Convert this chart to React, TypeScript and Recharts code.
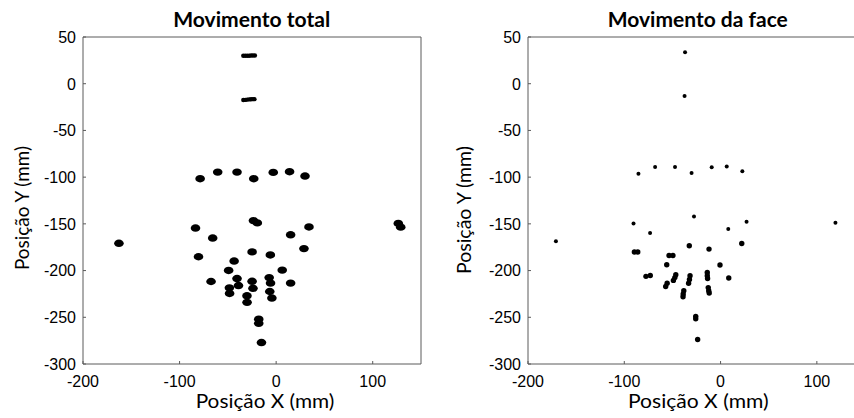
import React from 'react';
import { ScatterChart, Scatter, XAxis, YAxis } from 'recharts';

// ---- axes ----
const xTicks = [-200, -100, 0, 100];
const yTicks = [50, 0, -50, -100, -150, -200, -250, -300];
const xDomain: [number, number] = [-200, 150];
const yDomain: [number, number] = [-300, 50];

// ---- "Movimento total" : marker clusters (blob centres) ----
const totalBlobs = [
  { x: -78.7, y: -101.7 }, { x: -60.5, y: -94.6 }, { x: -40.5, y: -94.6 }, { x: -23.2, y: -101.7 },
  { x: -3.0, y: -94.9 }, { x: 13.9, y: -94.2 }, { x: 29.9, y: -98.8 },
  { x: -23.5, y: -146.5 }, { x: -19.5, y: -149 },
  { x: -83.5, y: -154.5 }, { x: 34, y: -153.3 }, { x: -65.7, y: -165.2 }, { x: 15, y: -161.7 },
  { x: -162.8, y: -170.8 }, { x: 126.5, y: -149.5 }, { x: 129, y: -153.5 },
  { x: -80.4, y: -185.2 }, { x: -24.9, y: -180 }, { x: -6, y: -183.3 }, { x: 28.8, y: -176.5 },
  { x: -43.5, y: -189.8 }, { x: -49.2, y: -199.9 }, { x: 6.3, y: -199.5 },
  { x: -67.4, y: -211.7 },
  { x: -40.5, y: -208.5 }, { x: -39, y: -216 },
  { x: -24.9, y: -211.5 }, { x: -24, y: -219 },
  { x: -7.2, y: -207.5 }, { x: -5.8, y: -213.4 },
  { x: 15, y: -213.4 },
  { x: -48.4, y: -218.5 }, { x: -48.2, y: -224.5 },
  { x: -30.2, y: -227 }, { x: -30.1, y: -234 },
  { x: -6.6, y: -222.4 }, { x: -4.4, y: -229.4 },
  { x: -18, y: -252 }, { x: -18, y: -256.5 },
  { x: -15.2, y: -277 },
];

// thin horizontal streaks near the top
const totalStreaks = [
  { x: -34, y: 30 }, { x: -32, y: 30 }, { x: -30, y: 30 }, { x: -28, y: 30 }, { x: -26, y: 30.2 },
  { x: -24, y: 30.2 }, { x: -22, y: 30.2 },
  { x: -34, y: -17.5 }, { x: -32, y: -17.3 }, { x: -30, y: -17 }, { x: -28, y: -16.8 }, { x: -26, y: -16.6 },
  { x: -24, y: -16.5 }, { x: -22.5, y: -16.5 },
];

// ---- "Movimento da face" ----
const faceSmall = [
  { x: -36.9, y: 33.6 }, { x: -37.4, y: -13.2 },
  { x: -85.3, y: -96.3 }, { x: -68, y: -89.2 }, { x: -47.3, y: -89.2 }, { x: -30.1, y: -95.5 },
  { x: -9.2, y: -89.3 }, { x: 6.4, y: -88.7 }, { x: 22.6, y: -93.8 },
  { x: -27.6, y: -142.2 }, { x: 27, y: -147.8 }, { x: -90.4, y: -149.7 }, { x: 119.3, y: -148.9 },
  { x: -171, y: -168.5 }, { x: 8, y: -155.5 }, { x: -73.2, y: -159.8 },
];

const faceLarge = [
  { x: -32.5, y: -173.4 }, { x: -12, y: -177 }, { x: 22, y: -171 },
  { x: -89.5, y: -180.2 }, { x: -86, y: -180.2 },
  { x: -53.5, y: -183.8 }, { x: -49.5, y: -183.8 },
  { x: -55.9, y: -193.8 }, { x: -0.6, y: -194 },
  { x: -77.5, y: -206.2 }, { x: -73, y: -205.2 },
  { x: -46.5, y: -204.5 }, { x: -47.5, y: -207.5 }, { x: -49, y: -210.5 },
  { x: -31.7, y: -205.5 }, { x: -32.3, y: -209.5 }, { x: -33.2, y: -213.5 },
  { x: -13.8, y: -202 }, { x: -13.8, y: -205.5 }, { x: -13.5, y: -208.5 },
  { x: 8.5, y: -208 },
  { x: -55.5, y: -213.5 }, { x: -57, y: -217 },
  { x: -12.8, y: -218.2 }, { x: -12.3, y: -221.5 }, { x: -11.8, y: -224 },
  { x: -38.2, y: -221.5 }, { x: -38.8, y: -225 }, { x: -39, y: -228 },
  { x: -25.8, y: -249 }, { x: -25.8, y: -251.5 },
  { x: -23.8, y: -273.7 },
];

const AXIS = '#5a5a5a';
const tickFamily = '"Liberation Sans", Arial, Helvetica, sans-serif';
const labelFont = 'Lato, "Open Sans", sans-serif';

const XTick = (p: any) => (
  <text x={p.x} y={p.y} dy={11.5} textAnchor="middle" fontFamily={tickFamily} fontSize={16} fill="#000">
    {p.payload.value}
  </text>
);
const YTick = (p: any) => (
  <text x={p.x} y={p.y} dy={5.8} textAnchor="end" fontFamily={tickFamily} fontSize={16} fill="#000">
    {p.payload.value}
  </text>
);

const blobShape = (p: any) => <ellipse cx={p.cx} cy={p.cy} rx={4.8} ry={3.7} fill="#000" />;
const dotShape = (r: number) => (p: any) => <circle cx={p.cx} cy={p.cy} r={r} fill="#000" />;

function Panel({ offsetLeft, yAxisWidth, children }: any) {
  return (
    <div style={{ position: 'absolute', left: offsetLeft, top: 0 }}>
      <ScatterChart width={424} height={418} margin={{ top: 36, right: 2, bottom: 0, left: 0 }}>
        <XAxis xAxisId="b" type="number" dataKey="x" domain={xDomain} ticks={xTicks} allowDataOverflow
          interval={0} height={54} tickSize={-3} tickMargin={14} tick={XTick}
          axisLine={{ stroke: AXIS }} tickLine={{ stroke: AXIS }} />
        <XAxis xAxisId="t" orientation="top" type="number" dataKey="x" domain={xDomain} ticks={xTicks} allowDataOverflow
          interval={0} height={1} tickSize={-3} tick={false}
          axisLine={{ stroke: AXIS }} tickLine={{ stroke: AXIS }} />
        <YAxis yAxisId="l" type="number" dataKey="y" domain={yDomain} ticks={yTicks} allowDataOverflow
          interval={0} width={yAxisWidth} tickSize={-3} tickMargin={10} tick={YTick}
          axisLine={{ stroke: AXIS }} tickLine={{ stroke: AXIS }} />
        <YAxis yAxisId="r" orientation="right" type="number" dataKey="y" domain={yDomain} ticks={yTicks} allowDataOverflow
          interval={0} width={1} tickSize={-3} tick={false}
          axisLine={{ stroke: AXIS }} tickLine={{ stroke: AXIS }} />
        {children}
      </ScatterChart>
    </div>
  );
}

export default function App() {
  return (
    <div style={{ position: 'absolute', left: 0, top: 0, width: 854, height: 418, overflow: 'hidden', background: '#fff' }}>
      <Panel offsetLeft={0} yAxisWidth={83}>
        <Scatter xAxisId="b" yAxisId="l" data={totalBlobs} shape={blobShape} isAnimationActive={false} />
        <Scatter xAxisId="b" yAxisId="l" data={totalStreaks} shape={dotShape(2.2)} isAnimationActive={false} />
      </Panel>
      <Panel offsetLeft={444} yAxisWidth={84}>
        <Scatter xAxisId="b" yAxisId="l" data={faceSmall} shape={dotShape(2)} isAnimationActive={false} />
        <Scatter xAxisId="b" yAxisId="l" data={faceLarge} shape={dotShape(2.7)} isAnimationActive={false} />
      </Panel>
      <svg width={854} height={418} style={{ position: 'absolute', left: 0, top: 0, pointerEvents: 'none' }}>
        <text x={251.7} y={27} textAnchor="middle" fontFamily={labelFont} fontWeight="bold" fontSize={20}
          textLength={157} lengthAdjust="spacingAndGlyphs" fill="#000">Movimento total</text>
        <text x={697.8} y={27} textAnchor="middle" fontFamily={labelFont} fontWeight="bold" fontSize={20}
          textLength={180} lengthAdjust="spacingAndGlyphs" fill="#000">Movimento da face</text>
        <text x={265} y={408} textAnchor="middle" fontFamily={labelFont} fontSize={20}
          textLength={138.6} lengthAdjust="spacingAndGlyphs" fill="#000">Posição X (mm)</text>
        <text x={698.3} y={408} textAnchor="middle" fontFamily={labelFont} fontSize={20}
          textLength={140.7} lengthAdjust="spacingAndGlyphs" fill="#000">Posição X (mm)</text>
        <text transform="translate(28.5,208) rotate(-90)" textAnchor="middle" fontFamily={labelFont} fontSize={20}
          textLength={124} lengthAdjust="spacingAndGlyphs" fill="#000">Posição Y (mm)</text>
        <text transform="translate(470.5,210) rotate(-90)" textAnchor="middle" fontFamily={labelFont} fontSize={20}
          textLength={128} lengthAdjust="spacingAndGlyphs" fill="#000">Posição Y (mm)</text>
      </svg>
    </div>
  );
}
